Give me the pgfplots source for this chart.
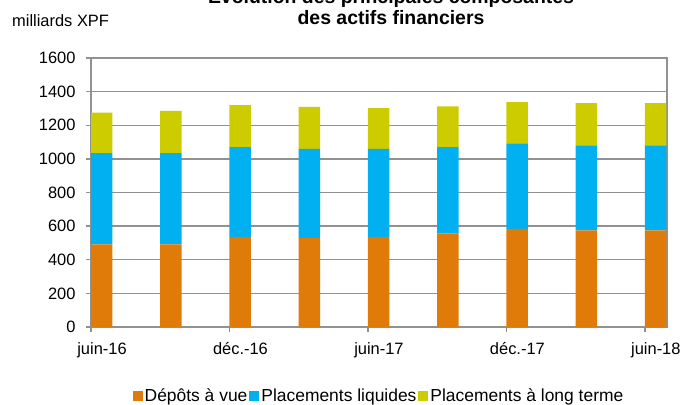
\documentclass[border=0pt]{standalone}
\usepackage{pgfplots}
\pgfplotsset{compat=1.18}
\usepackage{fontspec}
\setmainfont{Liberation Sans}
\definecolor{cOr}{RGB}{224,123,10}
\definecolor{cBl}{RGB}{0,176,240}
\definecolor{cYe}{RGB}{204,204,0}
\definecolor{cGr}{RGB}{145,145,145}
\begin{document}
\begin{tikzpicture}
\useasboundingbox (0,0) rectangle (686bp,405bp);
\begin{axis}[
  at={(91bp,78bp)}, anchor=south west,
  width=576bp, height=269bp, scale only axis,
  xmin=0, xmax=8.32, ymin=0, ymax=1600,
  enlargelimits=false,
  ybar stacked, bar width=0.31, bar shift=0.155,
  xtick={0,2,4,6,8},
  xticklabels={juin-16,déc.-16,juin-17,déc.-17,juin-18},
  ytick={0,200,...,1600},
  ymajorgrids,
  major grid style={cGr, line width=1.3bp},
  axis line style={cGr, line width=1.3bp},
  every tick/.style={cGr, line width=1.3bp},
  tick align=outside, major tick length=5bp,
  xtick pos=lower, ytick pos=left,
  tick label style={font=\fontsize{16.5}{18}\selectfont},
  xticklabel style={xshift=11bp, yshift=-7bp},
  yticklabel style={xshift=-7bp},
  /pgf/number format/assume math mode=true,
  /pgf/number format/set thousands separator={},
  legend columns=3,
  legend style={at={(0.5,-0.2565)}, anchor=center, draw=none,
    font=\fontsize{17.5}{19}\selectfont,
    nodes={inner sep=2bp},
    /tikz/every even column/.append style={column sep=0bp}},
  legend cell align=left,
]
\addplot[fill=cOr, draw=none, legend image code/.code={\fill[cOr] (0bp,-5bp) rectangle (10bp,5bp);}] coordinates {
  (0,491) (1,491) (2,536) (3,528) (4,536) (5,556) (6,584) (7,574) (8,574)};
\addlegendentry{Dépôts à vue}
\addplot[fill=cBl, draw=none, legend image code/.code={\fill[cBl] (0bp,-5bp) rectangle (10bp,5bp);}] coordinates {
  (0,543) (1,543) (2,534) (3,532) (4,524) (5,514) (6,508) (7,506) (8,506)};
\addlegendentry{Placements liquides}
\addplot[fill=cYe, draw=none, legend image code/.code={\fill[cYe] (0bp,-5bp) rectangle (10bp,5bp);}] coordinates {
  (0,241) (1,251) (2,250) (3,250) (4,242) (5,242) (6,246) (7,252) (8,252)};
\addlegendentry{Placements à long terme}
\end{axis}
\node[font=\bfseries\fontsize{19.5}{21}\selectfont, anchor=base] at (391bp,380bp) {des actifs financiers};
\node[font=\bfseries\fontsize{19.5}{21}\selectfont, anchor=base] at (391bp,401bp) {Evolution des principales composantes};
\node[font=\fontsize{16.5}{18}\selectfont, anchor=base west, inner sep=0pt] at (12bp,378bp) {milliards XPF};
\end{tikzpicture}
\end{document}
